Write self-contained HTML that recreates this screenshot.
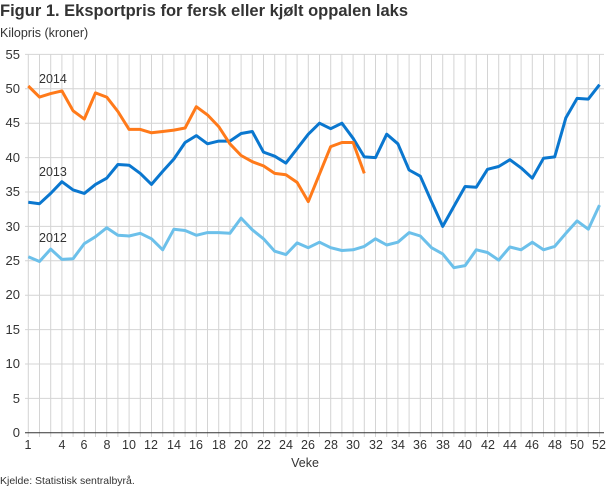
<!DOCTYPE html>
<html><head><meta charset="utf-8"><style>
body{margin:0;background:#fff;font-family:"Liberation Sans",sans-serif;}
svg text{font-family:"Liberation Sans",sans-serif;fill:#333;}
</style></head><body>
<svg id="s" width="610" height="488" xmlns="http://www.w3.org/2000/svg">
<text x="0" y="16" font-size="16.5" font-weight="bold" fill="#222">Figur 1. Eksportpris for fersk eller kjølt oppalen laks</text>
<text x="0" y="37" font-size="12.5">Kilopris (kroner)</text>
<g id="grid"></g>
<g font-size="13" text-anchor="end">
<text x="20" y="437">0</text><text x="20" y="403">5</text><text x="20" y="368">10</text><text x="20" y="334">15</text><text x="20" y="299">20</text><text x="20" y="265">25</text><text x="20" y="231">30</text><text x="20" y="196">35</text><text x="20" y="162">40</text><text x="20" y="127">45</text><text x="20" y="93">50</text><text x="20" y="59">55</text>
</g>
<g font-size="12.5" text-anchor="middle" id="xl">
<text x="28" y="449">1</text><text x="62" y="449">4</text><text x="84" y="449">6</text><text x="107" y="449">8</text><text x="129" y="449">10</text><text x="151" y="449">12</text><text x="174" y="449">14</text><text x="196" y="449">16</text><text x="219" y="449">18</text><text x="241" y="449">20</text><text x="264" y="449">22</text><text x="286" y="449">24</text><text x="308" y="449">26</text><text x="331" y="449">28</text><text x="353" y="449">30</text><text x="376" y="449">32</text><text x="398" y="449">34</text><text x="420" y="449">36</text><text x="443" y="449">38</text><text x="465" y="449">40</text><text x="488" y="449">42</text><text x="510" y="449">44</text><text x="532" y="449">46</text><text x="555" y="449">48</text><text x="577" y="449">50</text><text x="599" y="449">52</text>
</g>
<text x="305" y="467" font-size="12.5" text-anchor="middle">Veke</text>
<text x="0" y="484" font-size="10.5">Kjelde: Statistisk sentralbyrå.</text>
<g id="lines"></g>
<text x="39" y="83" font-size="12.5">2014</text>
<text x="39" y="176" font-size="12.5">2013</text>
<text x="39" y="242" font-size="12.5">2012</text>
</svg>
<script>
var X=function(i){return 28.3+i*11.2},Y=function(v){return 432.8-v*6.88};
var g='';
for(var i=0;i<52;i++)g+='<line x1="'+X(i)+'" x2="'+X(i)+'" y1="54" y2="437" stroke="#d4d4d4" stroke-width="1"/>';
for(var v=5;v<=55;v+=5)g+='<line x1="25" x2="604" y1="'+Y(v)+'" y2="'+Y(v)+'" stroke="#d4d4d4" stroke-width="1"/>';
g+='<line x1="25" x2="604" y1="'+Y(0)+'" y2="'+Y(0)+'" stroke="#333" stroke-width="1"/>';
document.getElementById('grid').innerHTML=g;
var d12=[25.6,24.9,26.7,25.2,25.3,27.5,28.5,29.8,28.7,28.6,29,28.2,26.6,29.6,29.4,28.7,29.1,29.1,29,31.2,29.5,28.2,26.4,25.9,27.6,26.9,27.7,26.9,26.5,26.6,27.1,28.2,27.3,27.7,29.1,28.6,26.9,26,24,24.3,26.6,26.2,25.1,27,26.6,27.7,26.6,27.1,29,30.8,29.6,33.1];
var d13=[33.5,33.3,34.8,36.5,35.3,34.8,36.1,37,39,38.9,37.7,36.1,38,39.8,42.2,43.2,42,42.4,42.4,43.5,43.8,40.8,40.2,39.2,41.3,43.4,45,44.2,45,42.8,40.1,40,43.4,42,38.2,37.3,33.6,30,32.9,35.8,35.7,38.3,38.7,39.7,38.5,37,39.9,40.1,45.8,48.6,48.5,50.6];
var d14=[50.4,48.8,49.3,49.7,46.8,45.6,49.4,48.8,46.7,44.1,44.1,43.6,43.8,44,44.3,47.4,46.2,44.5,42,40.3,39.4,38.8,37.7,37.5,36.4,33.6,37.6,41.6,42.2,42.2,37.7];
function pl(d,c){return '<polyline fill="none" stroke="'+c+'" stroke-width="3" stroke-linejoin="round" points="'+d.map(function(v,i){return X(i).toFixed(1)+','+Y(v).toFixed(1)}).join(' ')+'"/>';}
document.getElementById('lines').innerHTML=pl(d12,'#6cc0ea')+pl(d13,'#0a77cf')+pl(d14,'#ff7a1a');
</script>
</body></html>
